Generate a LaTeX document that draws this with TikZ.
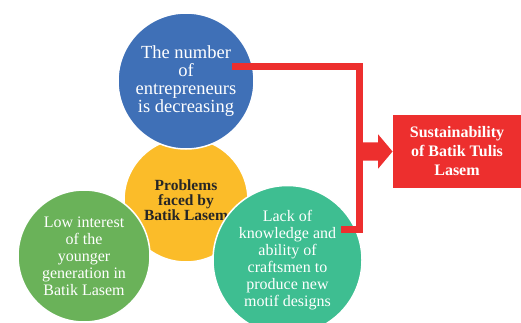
\documentclass[tikz,border=0pt]{standalone}
\usepackage{fontspec}
\setmainfont{Liberation Serif}
\usetikzlibrary{shapes.arrows}
\definecolor{cblue}{RGB}{63,112,183}
\definecolor{cgold}{RGB}{251,188,41}
\definecolor{cgreen}{RGB}{106,178,89}
\definecolor{cteal}{RGB}{62,190,145}
\definecolor{cred}{RGB}{237,47,46}
\begin{document}
\begin{tikzpicture}[x=10pt,y=10pt,
    bubble/.style={circle,draw=white,line width=1.5pt,text=white,align=center,inner sep=0pt},
    bigtext/.style={font=\fontsize{18.5}{18}\selectfont},
    smalltext/.style={font=\fontsize{16}{17}\selectfont}]
  \useasboundingbox (0,0) rectangle (52.1,32.2);
  % the core problem sits behind the three causes
  \node[bubble,fill=cgold,text=black!85,minimum size=124pt,
        font=\bfseries\fontsize{15.5}{15}\selectfont] (prob) at (18.6,12.2) {Problems\\faced by\\Batik Lasem};
  \node[bubble,fill=cblue,minimum size=136pt,bigtext] (entr) at (18.6,24.1) {The number\\of\\entrepreneurs\\is decreasing};
  \node[bubble,fill=cgreen,minimum size=132pt,smalltext] (youth) at (8.4,6.6) {Low interest\\of the\\younger\\generation in\\Batik Lasem};
  \node[bubble,fill=cteal,minimum size=149pt,smalltext] (craft) at (28.75,6.2) {Lack of\\knowledge and\\ability of\\craftsmen to\\produce new\\motif designs};
  % outcome box and block arrow
  \node[fill=cred,text=white,align=center,minimum width=128pt,minimum height=73pt,inner sep=0pt,
        font=\bfseries\fontsize{16}{19}\selectfont] (sust) at (45.7,17.05) {Sustainability\\of Batik Tulis\\Lasem};
  \node[single arrow,fill=cred,inner xsep=0pt,inner ysep=9pt,minimum height=30pt,
        single arrow head extend=8pt,single arrow tip angle=100,anchor=tip] (arr) at (sust.west) {};
  % bracket joining the two causes
  \coordinate (e1) at (23.2,25.6);
  \coordinate (c1) at (34.1,9.3);
  \draw[cred,line width=7pt,line join=miter] (e1) -- ++(12.7,0) |- (c1);
\end{tikzpicture}
\end{document}
